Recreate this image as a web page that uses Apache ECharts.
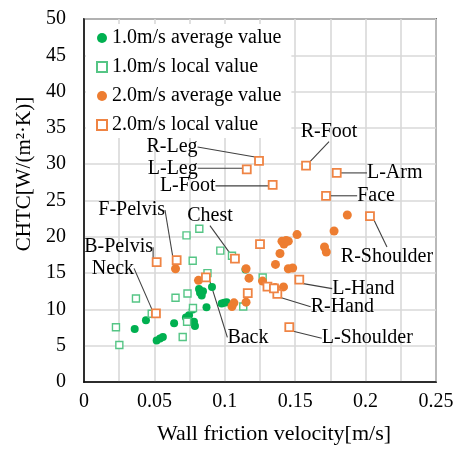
<!DOCTYPE html>
<html><head><meta charset="utf-8">
<script src="https://cdn.jsdelivr.net/npm/echarts@6/dist/echarts.min.js"></script>
<style>html,body{margin:0;padding:0;background:#fff}#c{width:457px;height:450px}</style>
</head><body><div id="c"></div>
<script>
// ---------- DATA ----------
const seriesNames = ['1.0m/s average value', '1.0m/s local value', '2.0m/s average value', '2.0m/s local value'];

const avg10 = [
  [0.036, 7.3], [0.044, 8.5], [0.0516, 5.7], [0.054, 6.0], [0.056, 6.2],
  [0.064, 8.1], [0.0724, 8.9], [0.0746, 9.2], [0.0772, 10.0], [0.0781, 8.3],
  [0.0788, 7.7], [0.0817, 12.8], [0.0824, 12.3], [0.0836, 11.9], [0.0845, 12.5],
  [0.087, 10.3], [0.0909, 13.1], [0.0978, 10.8], [0.0996, 10.9], [0.1013, 11.0],
  [0.1147, 15.5]
];

const local10 = [
  [0.0227, 7.55], [0.0251, 5.1], [0.0369, 11.5], [0.0481, 9.4], [0.065, 11.6],
  [0.0701, 6.2], [0.0728, 20.2], [0.0735, 12.2], [0.0732, 8.3], [0.0772, 16.7],
  [0.0774, 10.2], [0.0819, 21.1], [0.0877, 15.0], [0.0968, 18.1], [0.1051, 17.4],
  [0.1131, 10.4], [0.1269, 14.4]
];

const avg20 = [
  [0.065, 15.6], [0.0813, 14.0], [0.1051, 10.4], [0.1065, 10.9], [0.1151, 11.0],
  [0.1151, 15.6], [0.1172, 14.3], [0.1268, 13.9], [0.136, 16.2], [0.1392, 17.7],
  [0.1406, 19.4], [0.142, 19.0], [0.1435, 19.5], [0.1451, 19.4], [0.1451, 15.6],
  [0.1482, 15.7], [0.1357, 13.0], [0.1417, 13.1], [0.1513, 20.3], [0.1708, 18.6],
  [0.1721, 17.9], [0.1776, 20.8], [0.187, 23.0]
];

const local20Names = [
  'B-Pelvis', 'F-Pelvis', 'Neck', 'Chest', 'Back', 'R-Leg', 'L-Leg', 'L-Foot',
  'R-Foot', 'L-Arm', 'Face', 'R-Shoulder', 'L-Hand', 'R-Hand', 'L-Shoulder',
  '', '', '', ''
];
const local20 = [
  [0.0516, 16.5], [0.0658, 16.8], [0.0511, 9.45], [0.1072, 17.0], [0.0866, 14.4],
  [0.1243, 30.45], [0.1156, 29.3], [0.134, 27.15], [0.1577, 29.8], [0.1795, 28.8],
  [0.1719, 25.65], [0.2031, 22.85], [0.1529, 14.1], [0.1373, 12.15], [0.1458, 7.55],
  [0.125, 19.0], [0.1163, 12.25], [0.1303, 13.15], [0.1349, 12.9]
];

const xTickLabels = ['0', '0.05', '0.1', '0.15', '0.2', '0.25'];
const xTitle = 'Wall friction velocity[m/s]';
const yTitle = 'CHTC[W/(m\u00B2\u00B7K)]';

// ---------- LAYOUT / STYLE ----------
const FONT = "'Liberation Serif', 'Times New Roman', serif";
const labelOffsets = {
  'R-Leg': [-87, -14], 'L-Leg': [-74, -1], 'L-Foot': [-85, 1], 'R-Foot': [23, -34],
  'L-Arm': [58, 0], 'Face': [50, 0], 'R-Shoulder': [17, 41], 'L-Hand': [64, 9],
  'R-Hand': [65, 13], 'L-Shoulder': [78, 11], 'Back': [42, 60], 'Chest': [-25, -43],
  'F-Pelvis': [-45, -50], 'B-Pelvis': [-38, -15], 'Neck': [-43, -45]
};

const GREEN = '#00b050', GREEN_L = '#55c585', ORANGE = '#ed7d31', ORANGE_L = '#ef8444';

const chart = echarts.init(document.getElementById('c'), null, {renderer: 'canvas'});
chart.setOption({
  backgroundColor: '#fff',
  animation: false,
  grid: {left: 84, top: 19, right: 21, bottom: 62, show: true, borderColor: '#000', borderWidth: 1.5, containLabel: false},
  legend: {
    orient: 'vertical', left: 86, top: 24,
    padding: [4, 10, 3, 10], itemGap: 9, itemWidth: 10, itemHeight: 10,
    backgroundColor: '#fff',
    textStyle: {fontFamily: FONT, fontSize: 20, color: '#000', lineHeight: 20},
    data: seriesNames
  },
  xAxis: {
    type: 'value', min: 0, max: 0.25, interval: 0.025,
    name: xTitle, nameLocation: 'middle', nameGap: 41,
    nameTextStyle: {fontFamily: FONT, fontSize: 22, color: '#000', padding: [0, 0, 0, 28]},
    axisLine: {show: true, lineStyle: {color: '#000', width: 1.5}},
    axisTick: {show: false},
    axisLabel: {
      margin: 10, fontFamily: FONT, fontSize: 20, color: '#000',
      formatter: function (v) {
        const k = Math.round(v * 1000);
        if (k % 50 !== 0) return '';
        return xTickLabels[k / 50] || '';
      }
    },
    splitLine: {show: true, lineStyle: {color: '#d9d9d9', width: 1.6}}
  },
  yAxis: {
    type: 'value', min: 0, max: 50, interval: 5,
    name: yTitle, nameLocation: 'middle', nameGap: 40, nameRotate: 90,
    nameTextStyle: {fontFamily: FONT, fontSize: 21, color: '#000', padding: [0, 0, 0, 53]},
    axisLine: {show: true, lineStyle: {color: '#000', width: 1.5}},
    axisTick: {show: false},
    axisLabel: {margin: 18, fontFamily: FONT, fontSize: 20, color: '#000'},
    splitLine: {show: true, lineStyle: {color: '#d9d9d9', width: 1.6}}
  },
  series: [
    {
      name: seriesNames[0], type: 'scatter', data: avg10,
      symbol: 'circle', symbolSize: 8,
      itemStyle: {color: GREEN, opacity: 1}
    },
    {
      name: seriesNames[1], type: 'scatter', data: local10,
      symbol: 'rect', symbolSize: 7,
      itemStyle: {color: '#fff', borderColor: GREEN_L, borderWidth: 1.4, opacity: 1}
    },
    {
      name: seriesNames[2], type: 'scatter', data: avg20,
      symbol: 'circle', symbolSize: 9,
      itemStyle: {color: ORANGE, opacity: 1}
    },
    {
      name: seriesNames[3], type: 'scatter',
      data: local20.map((p, i) => ({value: p, name: local20Names[i], label: {show: !!local20Names[i]}})),
      symbol: 'rect', symbolSize: 8,
      itemStyle: {color: '#fff', borderColor: ORANGE_L, borderWidth: 1.8, opacity: 1},
      label: {
        show: false, position: 'inside', align: 'center', verticalAlign: 'middle',
        formatter: '{b}', fontFamily: FONT, fontSize: 20, color: '#000'
      },
      labelLine: {show: true, lineStyle: {color: '#404040', width: 1.1}},
      labelLayout: function (params) {
        const o = labelOffsets[local20Names[params.dataIndex]];
        if (!o) return {};
        return {dx: o[0], dy: o[1]};
      }
    }
  ]
});
</script></body></html>
